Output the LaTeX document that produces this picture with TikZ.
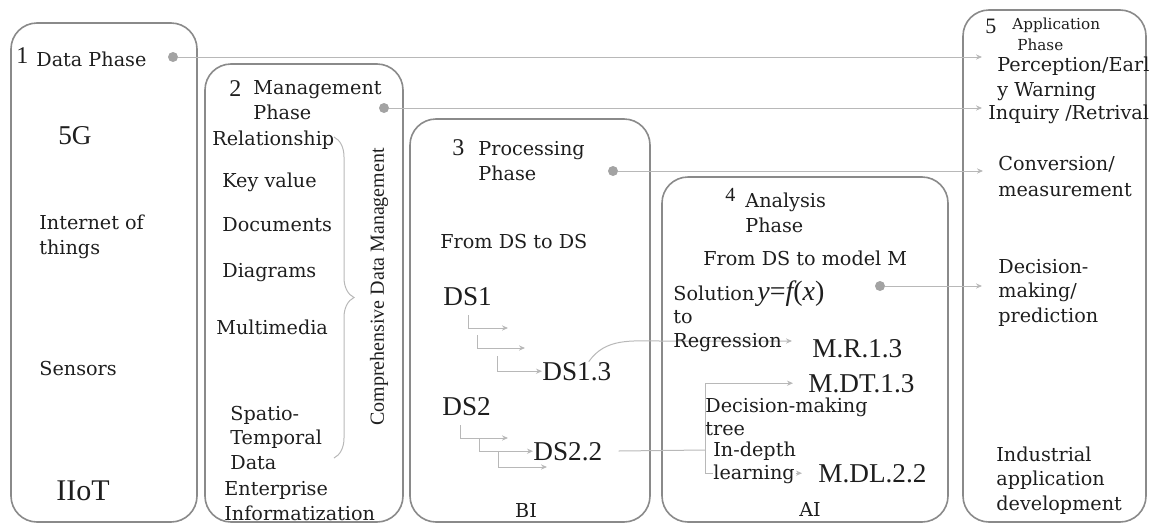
\documentclass[tikz,border=0pt]{standalone}
\usepackage{fontspec}
\setmainfont{DejaVu Serif}
\newfontfamily\tms{Liberation Serif}
\usetikzlibrary{arrows.meta,decorations.pathreplacing}
\definecolor{boxgray}{HTML}{8A8A8A}
\definecolor{linegray}{HTML}{B8B8B8}
\definecolor{dotgray}{HTML}{A3A3A3}
\definecolor{inkgray}{HTML}{1E1E1E}
\tikzset{
  phasebox/.style={draw=boxgray, line width=0.8pt, rounded corners=13pt},
  lbl/.style={inner sep=0pt, anchor=base west, align=left, text=inkgray,
    font=\fontsize{9.6}{12.2}\selectfont},
  dslbl/.style={inner sep=0pt, anchor=base west, text=inkgray,
    font=\tms\fontsize{13.6}{16}\selectfont},
  numlbl/.style={inner sep=0pt, anchor=base west, text=inkgray,
    font=\tms\fontsize{12}{14}\selectfont},
  hub/.style={circle, fill=dotgray, inner sep=0pt, minimum size=5pt},
  link/.style={draw=linegray, line width=0.5pt},
  arrowed/.style={-{Stealth[length=3pt, width=2.6pt]}},
  curly/.style={draw=linegray, line width=0.5pt, decorate,
    decoration={brace, amplitude=10pt}},
}
\begin{document}
\begin{tikzpicture}[x=0.5pt, y=-0.5pt]
  \useasboundingbox (0,0) rectangle (1152,525);

  % Phase boxes
  \draw[phasebox] (11,23) rectangle (197,522);
  \draw[phasebox] (205,64) rectangle (403,522);
  \draw[phasebox] (410,119) rectangle (650,522);
  \draw[phasebox] (662,177) rectangle (948,522);
  \draw[phasebox] (963,10) rectangle (1146,522);

  % 1 Data phase (multi-line labels sit on their last baseline)
  \node[numlbl] (n1) at (16,63) {1};
  \node[lbl] (data) at (36,66) {Data Phase};
  \node[hub] (h1) at (173,57) {};
  \node[dslbl] (fiveg) at (58,144) {5G};
  \node[lbl] (iot) at (39,254) {Internet of\\things};
  \node[lbl] (sensors) at (39,375) {Sensors};
  \node[dslbl, font=\tms\fontsize{15}{17}\selectfont] (iiot) at (56,500) {IIoT};

  % 2 Management phase
  \node[numlbl] (n2) at (229,96) {2};
  \node[lbl] (mgmt) at (253,119) {Management\\Phase};
  \node[hub] (h2) at (384,108) {};
  \node[lbl] (rel) at (212,145) {Relationship};
  \node[lbl] (keyval) at (222,187) {Key value};
  \node[lbl] (docs) at (222,231) {Documents};
  \node[lbl] (diag) at (222,277) {Diagrams};
  \node[lbl] (multi) at (216,334) {Multimedia};
  \node[lbl] (spatio) at (230,469) {Spatio-\\Temporal\\Data};
  \node[lbl] (enter) at (224,520) {Enterprise\\Informatization};
  \draw[curly] (334,137) -- (334,458);
  \node[rotate=90, inner sep=0pt, text=inkgray,
    font=\tms\fontsize{10}{12}\selectfont] (cdm) at (379,287)
    {Comprehensive Data Management};

  % 3 Processing phase
  \node[numlbl] (n3) at (452,155) {3};
  \node[lbl] (proc) at (478,180) {Processing\\Phase};
  \node[hub] (h3) at (613,171) {};
  \node[lbl] (fromds) at (440,248) {From DS to DS};
  \node[dslbl] (ds1) at (443,305) {DS1};
  \node[dslbl] (ds13) at (542,380) {DS1.3};
  \node[dslbl] (ds2) at (442,415) {DS2};
  \node[dslbl] (ds22) at (533,460) {DS2.2};
  \node[lbl, anchor=base] (bi) at (526,517) {BI};

  \foreach \k/\sx/\sy/\ex/\ey in {a/468/315/508/328, b/477/335/525/348,
      c/460/425/508/438, d/498/452/547/467} {
    \coordinate (st\k) at (\sx,\sy);
    \coordinate (en\k) at (\ex,\ey);
    \draw[link, arrowed] (st\k) |- (en\k);
  }
  \coordinate (ds1c) at (497,356);
  \coordinate (ds2b) at (479,438);
  \draw[link, arrowed] (ds1c) |- (ds13.west);
  \draw[link, arrowed] (ds2b) |- (ds22.west);

  % 4 Analysis phase
  \coordinate (rj) at (660,341);
  \coordinate (split) at (705,450);
  \node[dslbl] (mr13) at (812,357) {M.R.1.3};
  \node[dslbl] (mdt13) at (808,392) {M.DT.1.3};
  \node[dslbl] (mdl22) at (818,482) {M.DL.2.2};
  \draw[link, arrowed, shorten >=10pt] ([xshift=6pt]ds13.north)
    to[out=55, in=180] (rj) -- (mr13.west |- rj);
  \draw[link, shorten <=8pt] (ds22.east) -- (split);
  \draw[link, arrowed] (split) |- ([xshift=-7.5pt]mdt13.west);
  \draw[link, arrowed] (split) |- ([xshift=-8pt]mdl22.west);

  \node[numlbl, font=\tms\fontsize{10}{12}\selectfont] (n4) at (725,201) {4};
  \node[lbl] (anal) at (745,232) {Analysis\\Phase};
  \node[lbl] (fromdsm) at (703,265) {From DS to model M};
  \node[hub] (h4) at (880,286) {};
  \node[lbl, font=\fontsize{9.6}{11.7}\selectfont] (sol) at (673,347)
    {Solution\\to\\Regression};
  \node[dslbl, font=\tms\itshape\fontsize{14}{16}\selectfont] (yfx) at (757,300)
    {y{\upshape=}f{\upshape(}x{\upshape)}};
  \node[lbl, font=\fontsize{9.6}{11.5}\selectfont] (dmt) at (705,435)
    {Decision-making\\tree};
  \node[lbl, font=\fontsize{9.6}{11.5}\selectfont, fill=white] (indepth) at (713,479)
    {In-depth\\learning};
  \node[lbl, anchor=base] (ai) at (810,516) {AI};

  % 5 Application phase
  \node[numlbl, font=\tms\fontsize{11}{13}\selectfont] (n5) at (985,33) {5};
  \node[lbl, font=\fontsize{7.6}{10.5}\selectfont] (appl) at (1012,50)
    {Application\\\hspace*{2.5pt}Phase};
  \node[lbl] (percep) at (997,96) {Perception/Earl\\y Warning};
  \node[lbl] (inquiry) at (988,119) {Inquiry /Retrival};
  \node[lbl, font=\fontsize{9.6}{13}\selectfont] (conv) at (998,196)
    {Conversion/\\measurement};
  \node[lbl] (decis) at (998,322) {Decision-\\making/\\prediction};
  \node[lbl] (indus) at (996,510) {Industrial\\application\\development};

  % phase to application links
  \draw[link, arrowed] (h1) -- (982,57);
  \draw[link, arrowed, shorten >=3pt] (h2) -- (h2 -| inquiry.west);
  \draw[link, arrowed] (h3) -- (983,171);
  \draw[link, arrowed] (h4) -- (982,286);
\end{tikzpicture}
\end{document}
